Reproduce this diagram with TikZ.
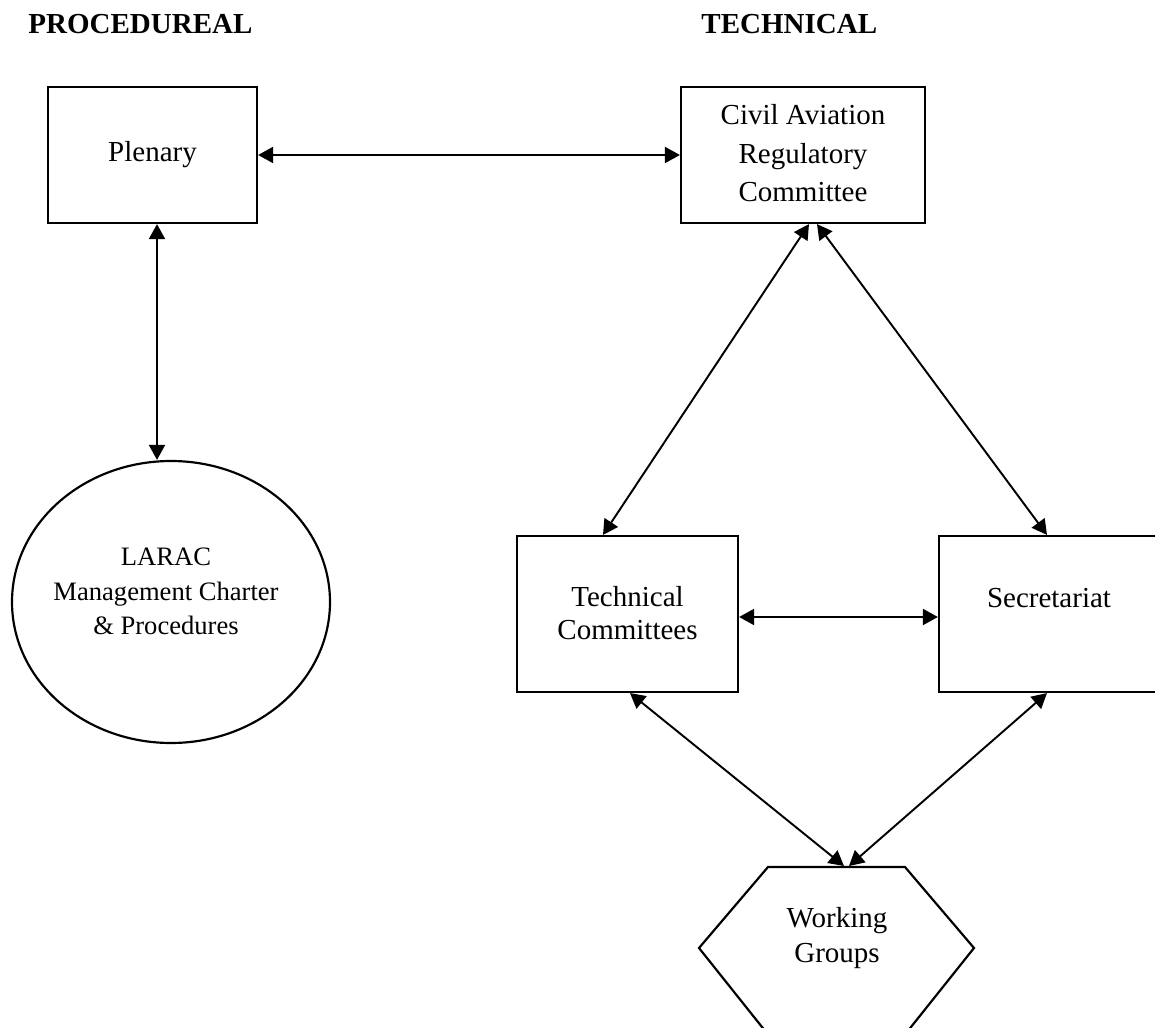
\documentclass[tikz,border=0pt]{standalone}
\usepackage{fontspec}
\setmainfont{Liberation Serif}
\usetikzlibrary{shapes.geometric,arrows.meta,calc}
\newcommand\pxu{0.4138pt}
\begin{document}
\begin{tikzpicture}[x=0.4138pt,y=-0.4138pt,
  box/.style={draw,line width=0.9pt,rectangle,inner sep=0pt},
  lbl/.style={font=\fontsize{12}{14.5}\selectfont,align=center,inner sep=0pt},
  arr/.style={line width=0.8pt,{Triangle[length=6.2pt,width=6.6pt]}-{Triangle[length=6.2pt,width=6.6pt]}},
  head/.style={font=\bfseries\fontsize{12}{14}\selectfont,inner sep=0pt,anchor=base west}]
\useasboundingbox (0,0) rectangle (1155,1028);
% headings
\node[head] (hp) at (28,33) {PROCEDUREAL};
\node[head] (ht) at (701,33) {TECHNICAL};
% shapes
\node[box,minimum width=209*\pxu,minimum height=136*\pxu] (plen) at (152.5,155) {};
\node[box,minimum width=244*\pxu,minimum height=136*\pxu] (carc) at (803,155) {};
\node[box,minimum width=221*\pxu,minimum height=156*\pxu] (tc) at (627.5,614) {};
\node[box,minimum width=220*\pxu,minimum height=156*\pxu] (sec) at (1049,614) {};
\node[draw,line width=0.9pt,ellipse,inner sep=0pt,minimum width=318*\pxu,minimum height=282*\pxu] (lar) at (171,602) {};
\coordinate (h1) at (768,867);
\coordinate (h2) at (905,867);
\coordinate (h3) at (974,948);
\coordinate (h4) at (907,1032);
\coordinate (h5) at (766,1032);
\coordinate (h6) at (699,948);
\draw[line width=0.9pt,line join=miter] (h1) -- (h2) -- (h3) -- (h4) -- (h5) -- (h6) -- cycle;
\coordinate (wgin1) at (844,866);
\coordinate (wgin2) at (849,866);
% texts
\node[lbl,anchor=base] (plent) at (152.5,161) {Plenary};
\node[lbl,font=\fontsize{12}{15.9}\selectfont] (carct) at (803,153.5) {Civil Aviation\\Regulatory\\Committee};
\node[lbl,font=\fontsize{12}{13.7}\selectfont] (tct) at (627.5,613.5) {Technical\\Committees};
\node[lbl,anchor=base] (sect) at (1049,607) {Secretariat};
\node[lbl,font=\fontsize{11}{14.3}\selectfont] (lart) at (166,591.5) {LARAC\\Management Charter\\\& Procedures};
\node[lbl] (wg) at (837,938.5) {Working\\Groups};
% connectors
\coordinate (pl1) at ($(plen.south)+(4.5,0)$);
\draw[arr] (plen.east) -- (carc.west);
\draw[arr] (pl1) -- (pl1 |- lar.north);
\draw[arr] ($(carc.south)+(6,0)$) -- ($(tc.north)+(-24.5,0)$);
\draw[arr] ($(carc.south)+(14,0)$) -- ($(sec.north)+(-2,0)$);
\draw[arr] ($(tc.east)+(0,3)$) -- ($(sec.west)+(0,3)$);
\draw[arr] ($(tc.south)+(2.5,0)$) -- (wgin1);
\draw[arr] ($(sec.south)+(-2,0)$) -- (wgin2);
\end{tikzpicture}
\end{document}
